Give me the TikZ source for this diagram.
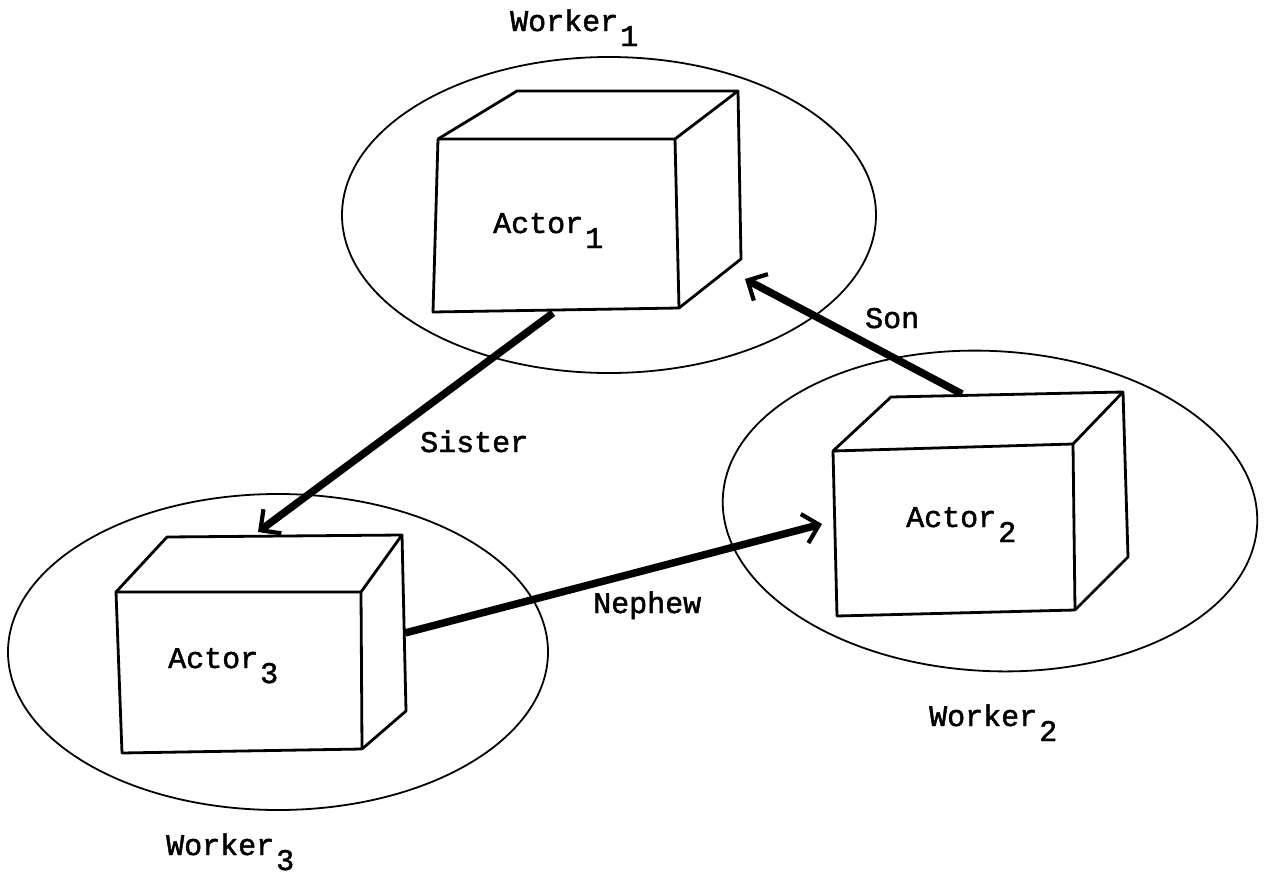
\documentclass[tikz,border=0pt]{standalone}
\usepackage{fontspec}
\setmonofont[FakeBold=1.6]{Liberation Mono}
\usetikzlibrary{arrows.meta,shapes.geometric}
% lowered index digit, typewriter style
\newcommand\lowidx[1]{\kern2pt\raisebox{-0.5em}{#1}}
\begin{document}
\begin{tikzpicture}[x=1pt,y=-1pt,
  worker/.style={draw, ellipse, line width=1.8pt, inner sep=0pt},
  cube/.style={line width=2.8pt, line join=round},
  rel/.style={line width=7.5pt,
    -{Straight Barb[length=15pt,width=30pt,line width=4.2pt]}},
  lbl/.style={font=\ttfamily\fontsize{30}{30}\selectfont,
    anchor=base west, inner sep=0pt}]
\useasboundingbox (0,0) rectangle (1267,878);

% worker ellipses
\node[worker, minimum width=534pt, minimum height=316pt] (w1) at (609,215) {};
\node[worker, minimum width=535pt, minimum height=320pt, rotate=-3] (w2) at (990,511) {};
\node[worker, minimum width=540pt, minimum height=316pt] (w3) at (278,652) {};

% actor 1 box
\coordinate (a1ftl) at (438,139); \coordinate (a1ftr) at (675,139);
\coordinate (a1fbr) at (679,308); \coordinate (a1fbl) at (433,312);
\coordinate (a1btl) at (517,91);  \coordinate (a1btr) at (738,91);
\coordinate (a1bbr) at (741,259);
\draw[cube] (a1ftl) -- (a1ftr) -- (a1fbr) -- (a1fbl) -- cycle;
\draw[cube] (a1ftl) -- (a1btl) -- (a1btr) -- (a1ftr);
\draw[cube] (a1btr) -- (a1bbr) -- (a1fbr);

% actor 2 box
\coordinate (a2ftl) at (833,451); \coordinate (a2ftr) at (1073,444);
\coordinate (a2fbr) at (1075,610); \coordinate (a2fbl) at (837,616);
\coordinate (a2btl) at (891,397);  \coordinate (a2btr) at (1123,392);
\coordinate (a2bbr) at (1128,557);
\draw[cube] (a2ftl) -- (a2ftr) -- (a2fbr) -- (a2fbl) -- cycle;
\draw[cube] (a2ftl) -- (a2btl) -- (a2btr) -- (a2ftr);
\draw[cube] (a2btr) -- (a2bbr) -- (a2fbr);

% actor 3 box
\coordinate (a3ftl) at (116,592); \coordinate (a3ftr) at (361,592);
\coordinate (a3fbr) at (362,749); \coordinate (a3fbl) at (122,753);
\coordinate (a3btl) at (167,537); \coordinate (a3btr) at (402,535);
\coordinate (a3bbr) at (406,711);
\draw[cube] (a3ftl) -- (a3ftr) -- (a3fbr) -- (a3fbl) -- cycle;
\draw[cube] (a3ftl) -- (a3btl) -- (a3btr) -- (a3ftr);
\draw[cube] (a3btr) -- (a3bbr) -- (a3fbr);

% labels
\node[lbl] (t1) at (493,233) {Actor\lowidx{1}};
\node[lbl] (t2) at (906,527) {Actor\lowidx{2}};
\node[lbl] (t3) at (168,668) {Actor\lowidx{3}};
\node[lbl] (n1) at (510,31) {Worker\lowidx{1}};
\node[lbl] (n2) at (929,726) {Worker\lowidx{2}};
\node[lbl] (n3) at (166,855) {Worker\lowidx{3}};

% relation end points on the boxes
\coordinate (sonS) at (962,394);   \coordinate (sonE) at (745,279);
\coordinate (sisS) at (553,313);   \coordinate (sisE) at (258,532);
\coordinate (nepS) at (405,633);   \coordinate (nepE) at (822,524);

\draw[rel] (sonS) -- (sonE);
\draw[rel] (sisS) -- (sisE);
\draw[rel] (nepS) -- (nepE);

\node[lbl] (lson) at (865,328) {Son};
\node[lbl] (lsis) at (420,452) {Sister};
\node[lbl] (lnep) at (593,613) {Nephew};
\end{tikzpicture}
\end{document}
